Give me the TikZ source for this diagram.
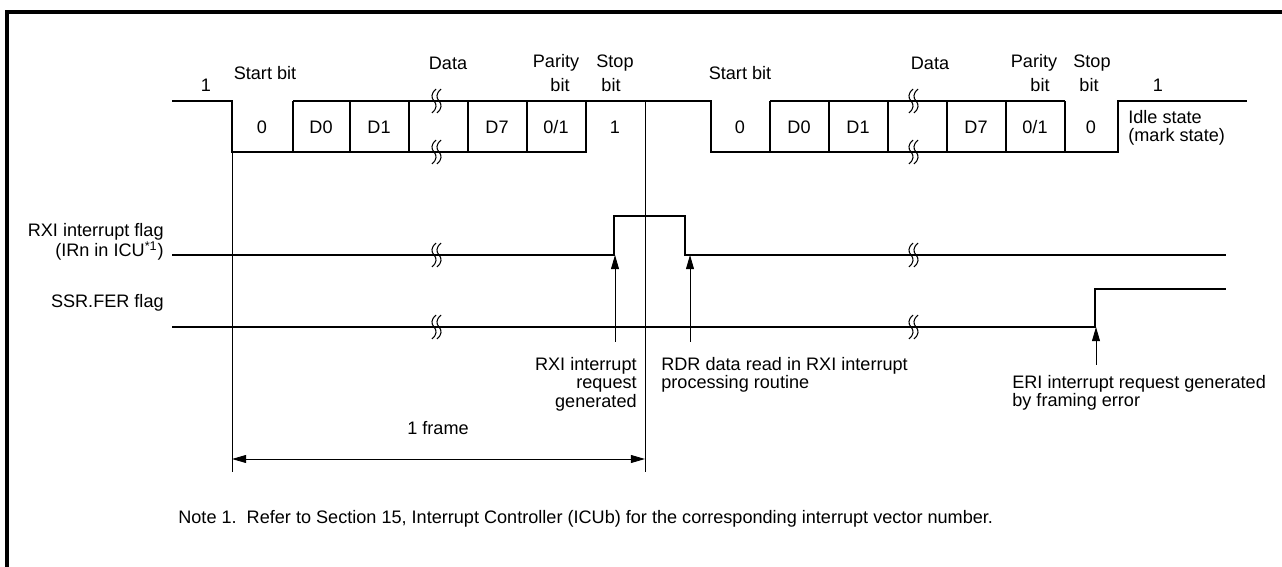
\documentclass[tikz,border=0pt]{standalone}
\usepackage{fontspec}
\setmainfont{Liberation Sans}
\usetikzlibrary{arrows.meta}

% wavy break mark on a signal line
\newcommand{\sigbreak}[2]{%
  \draw[brkline] (#1+2,#2-12) .. controls (#1-3,#2-8) and (#1-3,#2-3) .. (#1,#2)
                 .. controls (#1+3,#2+3) and (#1+3,#2+8) .. (#1-2,#2+12);
  \draw[brkline] (#1+7,#2-12) .. controls (#1+2,#2-8) and (#1+2,#2-3) .. (#1+5,#2)
                 .. controls (#1+8,#2+3) and (#1+8,#2+8) .. (#1+3,#2+12);}

\begin{document}
\begin{tikzpicture}[x=0.02cm, y=-0.02cm,
    >={Triangle[length=8pt,width=4.5pt]},
    sig/.style={line width=0.9pt, line join=miter},
    guide/.style={line width=0.5pt},
    brkline/.style={line width=0.6pt},
    txt/.style={font=\fontsize{10.3pt}{10.6pt}\selectfont, inner sep=0pt}]
  \useasboundingbox (0,0) rectangle (1282,567);

  % outer frame (cut off at right and bottom)
  \draw[line width=1.8pt] (7,567) -- (7,12) -- (1282,12);

  % Serial data line
  \draw[sig] (172,101) -- (232,101) -- (232,152) -- (586,152) -- (586,101);
  \draw[sig] (293,101) -- (711,101) -- (711,152) -- (1118,152) -- (1118,101) -- (1247,101);
  \draw[sig] (770,101) -- (1065,101);
  \foreach \x in {293,350,409,468,527,770,829,888,947,1006,1065}
    \draw[sig] (\x,101) -- (\x,152);
  \sigbreak{434}{101} \sigbreak{434}{152}
  \sigbreak{911}{101} \sigbreak{911}{152}

  % bit values
  \foreach \x/\b [count=\i] in {262/0,321/D0,379/D1,497/D7,556/0\slash 1,615/1,
                                740/0,799/D0,858/D1,976/D7,1035/0\slash 1,1091/0}
    \node[txt] (bit\i) at (\x,127) {\b};

  % field labels
  \node[txt] (idle1) at (206,85) {1};
  \node[txt] (start1) at (265,73) {Start bit};
  \node[txt] (data1) at (448,63) {Data};
  \node[txt] (par1) at (556,63) {Parity};
  \node[txt] (parb1) at (560,85) {bit};
  \node[txt] (stop1) at (615,63) {Stop};
  \node[txt] (stopb1) at (611,85) {bit};
  \node[txt] (start2) at (740,73) {Start bit};
  \node[txt] (data2) at (930,63) {Data};
  \node[txt] (par2) at (1034,63) {Parity};
  \node[txt] (parb2) at (1040,85) {bit};
  \node[txt] (stop2) at (1092,63) {Stop};
  \node[txt] (stopb2) at (1089,85) {bit};
  \node[txt] (idle2) at (1158,85) {1};
  \node[txt, align=left, anchor=west] (idlest) at (1128,128)
    {Idle state\\(mark state)};

  % frame markers
  \draw[guide] (232,101) -- (232,472);
  \draw[guide] (645,101) -- (645,472);

  % RXI interrupt flag
  \node[txt, align=right, anchor=east] (rxilbl) at (164,242)
    {RXI interrupt flag\\(IRn in ICU\textsuperscript{*1})};
  \draw[sig] (172,255) -- (614,255) -- (614,216) -- (685,216) -- (685,255) -- (1226,255);
  \sigbreak{434}{255} \sigbreak{911}{255}

  % SSR.FER flag
  \node[txt, anchor=east] (ferlbl) at (164,303) {SSR.FER flag};
  \draw[sig] (172,327) -- (1095,327) -- (1095,289) -- (1226,289);
  \sigbreak{434}{327} \sigbreak{911}{327}

  % event arrows
  \coordinate (rxiA) at (615,342);
  \coordinate (rxiB) at (615,255);
  \coordinate (rdrA) at (690,342);
  \coordinate (rdrB) at (690,255);
  \coordinate (eriA) at (1096,365);
  \coordinate (eriB) at (1096,327);
  \draw[guide, ->] (rxiA) -- (rxiB);
  \draw[guide, ->] (rdrA) -- (rdrB);
  \draw[guide, ->] (eriA) -- (eriB);

  \node[txt, align=right, anchor=east] (rxitxt) at (637,384)
    {RXI interrupt\\request\\generated};
  \node[txt, align=left, anchor=west] (rdrtxt) at (661,375)
    {RDR data read in RXI interrupt\\processing routine};
  \node[txt, align=left, anchor=west] (eritxt) at (1012,393)
    {ERI interrupt request generated\\by framing error};

  % 1 frame
  \coordinate (frmL) at (232,459);
  \coordinate (frmR) at (645,459);
  \draw[guide, <->] (frmL) -- (frmR);
  \node[txt] (frmtxt) at (438,428) {1 frame};

  % note
  \node[txt, anchor=west] (note) at (178,519)
    {Note 1.\ \ Refer to Section 15, Interrupt Controller (ICUb) for the corresponding interrupt vector number.};
\end{tikzpicture}
\end{document}
